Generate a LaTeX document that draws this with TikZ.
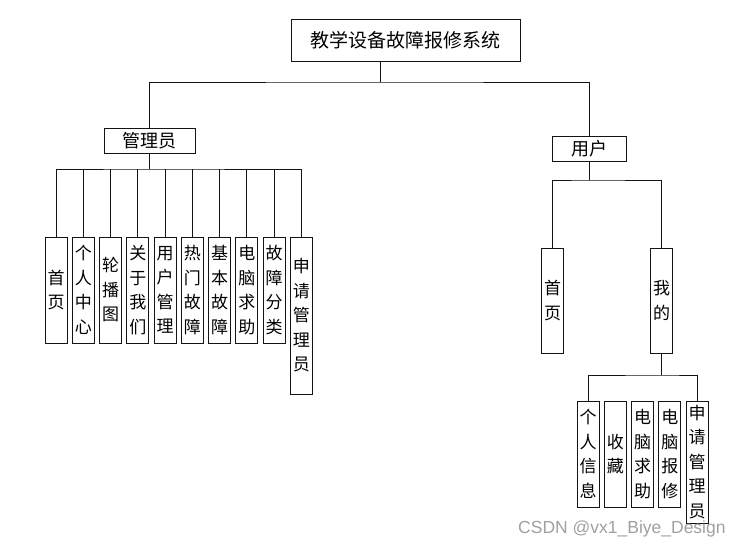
\documentclass[tikz,border=0pt]{standalone}
\usepackage{fontspec}
\usepackage{xcolor}
\usepackage{tikz}
\usetikzlibrary{positioning, calc}
\newfontfamily\cjk{Noto Sans CJK SC}
\newfontfamily\marksans{Liberation Sans}
\definecolor{boxline}{RGB}{20, 20, 20}
\definecolor{markgray}{RGB}{160, 160, 160}

\begin{document}
\begin{tikzpicture}[
    x=1pt, y=-1pt,
    hbox/.style={draw=boxline, line width=0.8pt, inner sep=0pt, outer sep=0pt, minimum height=25pt, font=\cjk\fontsize{18}{18}\selectfont},
    vbox/.style={draw=boxline, line width=0.8pt, inner sep=0pt, outer sep=0pt, minimum width=22pt, minimum height=106pt, align=center, anchor=north, font=\cjk\fontsize{17}{24.5}\selectfont},
    link/.style={draw=boxline, line width=0.8pt}
]

\useasboundingbox (0,0) rectangle (748,547);

% top level
\node[hbox, minimum width=229pt, minimum height=42pt, font=\cjk\fontsize{19}{19}\selectfont] (root) at (405.5,40) {教学设备故障报修系统};
\node[hbox, minimum width=91pt] (admin) at (149.5,140.5) {管理员};
\node[hbox, minimum width=74pt] (user) at (589.7,149) {用户};

% admin side
\node[vbox] (a1) at (56,237) {首\\页};
\node[vbox, right=5.25pt of a1.north east, anchor=north west] (a2) {个\\人\\中\\心};
\node[vbox, right=5.25pt of a2.north east, anchor=north west] (a3) {轮\\播\\图};
\node[vbox, right=5.25pt of a3.north east, anchor=north west] (a4) {关\\于\\我\\们};
\node[vbox, right=5.25pt of a4.north east, anchor=north west] (a5) {用\\户\\管\\理};
\node[vbox, right=5.25pt of a5.north east, anchor=north west] (a6) {热\\门\\故\\障};
\node[vbox, right=5.25pt of a6.north east, anchor=north west] (a7) {基\\本\\故\\障};
\node[vbox, right=5.25pt of a7.north east, anchor=north west] (a8) {电\\脑\\求\\助};
\node[vbox, right=5.25pt of a8.north east, anchor=north west] (a9) {故\\障\\分\\类};
\node[vbox, right=5.25pt of a9.north east, anchor=north west, minimum height=157pt] (a10) {申\\请\\管\\理\\员};

% user side
\node[vbox, minimum height=105pt] (u1) at (552.5,248) {首\\页};
\node[vbox, minimum height=105pt] (u2) at (661.7,248) {我\\的};

\node[vbox] (m1) at (588,401) {个\\人\\信\\息};
\node[vbox, right=5.25pt of m1.north east, anchor=north west] (m2) {收\\藏};
\node[vbox, right=5.25pt of m2.north east, anchor=north west] (m3) {电\\脑\\求\\助};
\node[vbox, right=5.25pt of m3.north east, anchor=north west] (m4) {电\\脑\\报\\修};
\node[vbox, right=5.25pt of m4.north east, anchor=north west, minimum height=122pt] (m5) {申\\请\\管\\理\\员};

% bus points
\coordinate (topbus) at (380,82);
\coordinate (adminbus) at (149.5,169);
\coordinate (userbus) at (589.7,180);
\coordinate (minebus) at (661.7,375);

\draw[link] (root.south -| topbus) -- (topbus);
\draw[link] (admin.north) |- (topbus) -| (user.north);

\draw[link] (admin.south) -- (adminbus);
\draw[link] (a1.north) |- (adminbus) -| (a10.north);
\draw[link] (a2.north) -- (a2.north |- adminbus);
\draw[link] (a3.north) -- (a3.north |- adminbus);
\draw[link] (a4.north) -- (a4.north |- adminbus);
\draw[link] (a5.north) -- (a5.north |- adminbus);
\draw[link] (a6.north) -- (a6.north |- adminbus);
\draw[link] (a7.north) -- (a7.north |- adminbus);
\draw[link] (a8.north) -- (a8.north |- adminbus);
\draw[link] (a9.north) -- (a9.north |- adminbus);

\draw[link] (user.south) -- (userbus);
\draw[link] (u1.north) |- (userbus) -| (u2.north);

\draw[link] (u2.south) -- (minebus);
\draw[link] (m1.north) |- (minebus) -| (m5.north);

% watermark
\node[font=\marksans\fontsize{17.5}{17.5}\selectfont, text=markgray, anchor=base west, inner sep=0pt] (mark) at (518,533) {CSDN @vx1\_Biye\_Design};

\end{tikzpicture}
\end{document}
